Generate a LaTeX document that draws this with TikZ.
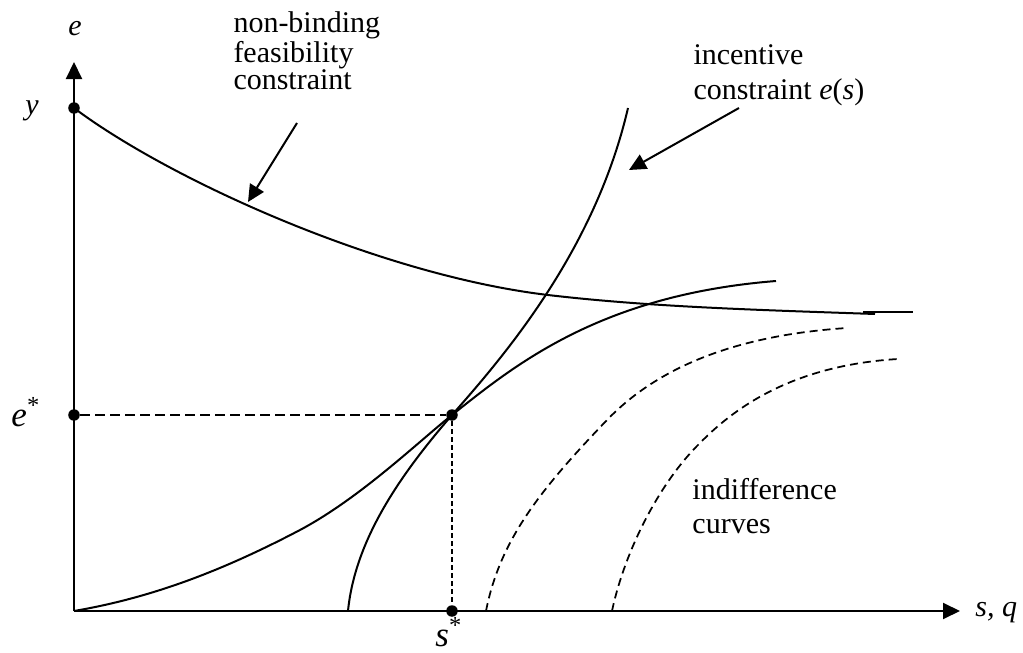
\documentclass[tikz,border=0pt]{standalone}
\usepackage{fontspec}
\setmainfont{Liberation Serif}
\usetikzlibrary{arrows.meta}

\begin{document}
\begin{tikzpicture}[x=0.4pt,y=-0.4pt,every node/.style={font=\fontsize{12}{13}\selectfont,inner sep=0pt},curve/.style={line width=0.8pt},indiff/.style={line width=0.7pt,dash pattern=on 3.2pt off 2pt},guide/.style={line width=0.6pt,dash pattern=on 4pt off 2pt},fineguide/.style={line width=0.5pt,dash pattern=on 2pt off 1.2pt},arrow/.style={line width=0.8pt,-{Triangle[length=6.8pt,width=6.4pt]}},dot/.style={circle,fill,inner sep=0pt,minimum size=4.6pt},starlab/.style={font=\fontsize{14}{15}\selectfont}]
\useasboundingbox (0,0) rectangle (1023,653);
% axes
\coordinate (O) at (74,611);
\coordinate (etop) at (74,62);
\coordinate (send) at (960,611);
\draw[arrow] (O)--(etop); \draw[arrow] (O)--(send);
\node[anchor=base] (elab) at (75,35) {\textit{e}};
\node[anchor=base west] (sqlab) at (975,617) {\textit{s, q}};
% marked points
\node[dot] (ydot) at (74,108) {};
\node[dot] (edot) at (74,415) {};
\node[dot] (opt) at (452,415) {};
\node[dot] (sdot) at (452,611) {};
\node[anchor=base] (ylab) at (32,115) {\textit{y}};
\node[starlab,anchor=base] (estar) at (26,427) {\textit{e}\textsuperscript{*}};
\node[starlab,anchor=base] (sstar) at (449,647) {\textit{s}\textsuperscript{*}};
\draw[guide] (edot)--(opt);
\draw[fineguide] (opt)--(sdot);
% feasibility constraint
\draw[curve] (ydot.center) .. controls (170,180) and (380,275) .. (548,295) .. controls (650,307) and (760,310) .. (875,314);
\draw[curve] (863,312)--(913,312);
% incentive constraint
\draw[curve] (348,611) .. controls (355,540) and (400,475) .. (opt.center) .. controls (505,355) and (595,250) .. (628,108);
% indifference curves
\draw[curve] (O) .. controls (150,598) and (220,572) .. (300,530) .. controls (360,498) and (417,443) .. (opt.center) .. controls (515,365) and (600,295) .. (776,281);
\draw[indiff] (486,611) .. controls (500,540) and (540,490) .. (607,420) .. controls (660,365) and (740,335) .. (847,328);
\draw[indiff] (612,611) .. controls (625,550) and (660,482) .. (700,443) .. controls (740,402) and (800,365) .. (898,359);
% labels
\node[anchor=base west,align=left,font=\fontsize{12}{11}\selectfont] (feaslab) at (233,90) {non-binding\\feasibility\\constraint};
\node[anchor=base west,align=left,font=\fontsize{12}{14}\selectfont] (inclab) at (693,100) {incentive\\constraint \textit{e}(\textit{s})};
\node[anchor=base west,align=left,font=\fontsize{12}{13.2}\selectfont] (indlab) at (692,533) {indifference\\curves};
\coordinate (feasfrom) at (297,123); \coordinate (feasto) at (248,202);
\coordinate (incfrom) at (739,108); \coordinate (incto) at (629,170);
\draw[arrow] (feasfrom)--(feasto);
\draw[arrow] (incfrom)--(incto);
\end{tikzpicture}
\end{document}
